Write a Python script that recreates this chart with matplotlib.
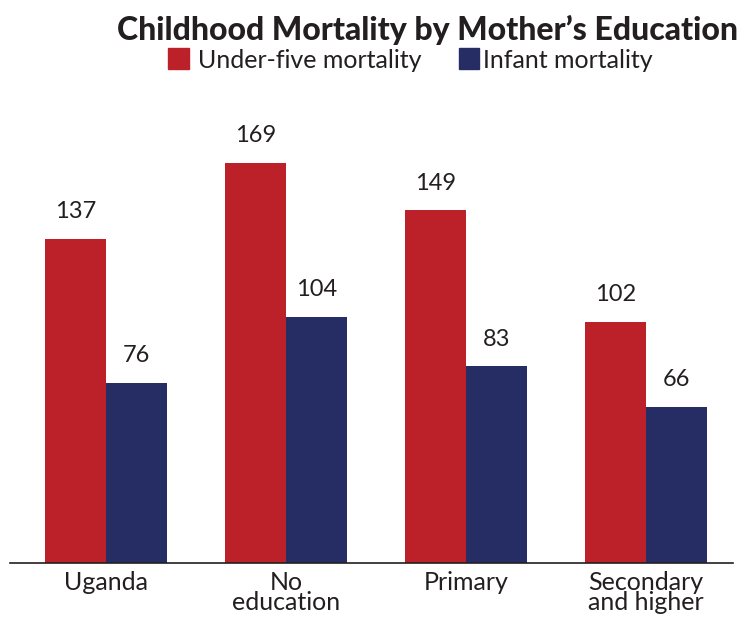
import matplotlib
matplotlib.use("Agg")
import matplotlib.pyplot as plt
import numpy as np
from matplotlib.patches import Rectangle

categories = ["Uganda", "No\neducation", "Primary", "Secondary\nand higher"]
under_five = [137, 169, 149, 102]
infant = [76, 104, 83, 66]
series_names = ["Under-five mortality", "Infant mortality"]
colors = ["#bc2028", "#252d64"]

plt.rcParams['font.family'] = ['Lato', 'DejaVu Sans']

fig = plt.figure(figsize=(7.4, 6.17), dpi=100)
ax = fig.add_axes([10/740, 1-563/617, 723/740, 483/617])

x = np.arange(len(categories))
w = 0.34
b1 = ax.bar(x - w/2, under_five, w, color=colors[0])
b2 = ax.bar(x + w/2, infant, w, color=colors[1])

for bars, vals in ((b1, under_five), (b2, infant)):
    for r, v in zip(bars, vals):
        ax.annotate(str(v), (r.get_x() + r.get_width()/2, v), xytext=(0, 12),
                    textcoords="offset points", ha="center", va="bottom",
                    fontsize=17, color="#231f20")

ax.set_xlim(-0.533, 3.483)
ax.set_ylim(0, 204)
ax.set_xticks(x)
ax.set_xticklabels(categories, fontsize=18, color="#231f20", linespacing=0.85)
ax.tick_params(axis='x', length=0, pad=6)
ax.set_yticks([])
for s in ["top", "right", "left"]:
    ax.spines[s].set_visible(False)
ax.spines["bottom"].set_color("#231f20")
ax.spines["bottom"].set_linewidth(1.2)

fig.text(738/740, 1-30/617, "Childhood Mortality by Mother\u2019s Education",
         ha="right", va="center", fontsize=23, fontweight="black", color="#231f20")

# legend
fig.patches.append(Rectangle((168/740, 1-69/617), 21/740, 21/617,
                             transform=fig.transFigure, color=colors[0]))
fig.text(198/740, 1-60/617, series_names[0], ha="left", va="center",
         fontsize=18, color="#231f20")
fig.patches.append(Rectangle((459/740, 1-69/617), 20/740, 21/617,
                             transform=fig.transFigure, color=colors[1]))
fig.text(483/740, 1-60/617, series_names[1], ha="left", va="center",
         fontsize=18, color="#231f20")

fig.savefig("out.png", dpi=100)
